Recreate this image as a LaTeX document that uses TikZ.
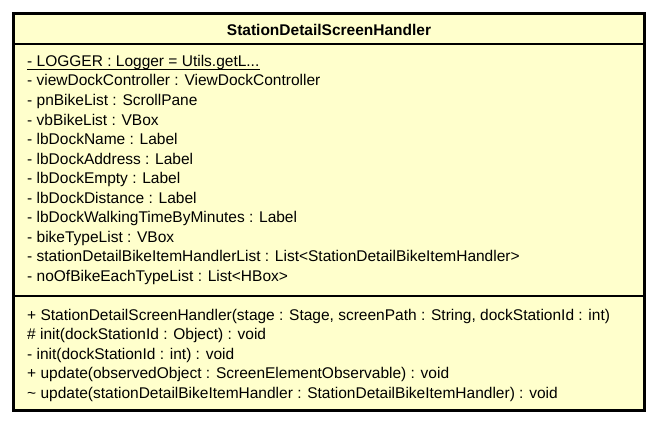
\documentclass[tikz,border=0pt]{standalone}
\usepackage{fontspec}
\setmainfont{Liberation Sans}
\definecolor{umlfill}{RGB}{255,255,204}
\begin{document}
\begin{tikzpicture}[x=1pt,y=-1pt,
  row/.style={anchor=base west,inner sep=0pt,font=\fontsize{15.5}{18}\selectfont},
  titletext/.style={anchor=base,inner sep=0pt,font=\fontsize{15.5}{18}\selectfont\bfseries},
  sep/.style={line width=1.2pt}]
\useasboundingbox (0,0) rectangle (660,425);
\draw[fill=umlfill,line width=3pt] (13.5,13.5) rectangle (644.5,410);
\coordinate (s1l) at (15,44); \coordinate (s1r) at (643,44);
\coordinate (s2l) at (15,296); \coordinate (s2r) at (643,296);
\draw[sep] (s1l) -- (s1r);
\draw[sep] (s2l) -- (s2r);
\node[titletext] (title) at (329,36) {StationDetailScreenHandler};
\node[row] (a1) at (27,66.5) {- LOGGER : Logger = Utils.getL...};
\draw[line width=1pt] ([yshift=-2.8pt]a1.base west) -- ([yshift=-2.8pt]a1.base east);
\node[row] (a2) at (27,86) {- viewDockController : ViewDockController};
\node[row] (a3) at (27,105.5) {- pnBikeList : ScrollPane};
\node[row] (a4) at (27,125) {- vbBikeList : VBox};
\node[row] (a5) at (27,144.5) {- lbDockName : Label};
\node[row] (a6) at (27,164) {- lbDockAddress : Label};
\node[row] (a7) at (27,183.5) {- lbDockEmpty : Label};
\node[row] (a8) at (27,203) {- lbDockDistance : Label};
\node[row] (a9) at (27,222.5) {- lbDockWalkingTimeByMinutes : Label};
\node[row] (a10) at (27,242) {- bikeTypeList : VBox};
\node[row] (a11) at (27,261.5) {- stationDetailBikeItemHandlerList : List<StationDetailBikeItemHandler>};
\node[row] (a12) at (27,281) {- noOfBikeEachTypeList : List<HBox>};
\node[row] (m1) at (27,320) {+ StationDetailScreenHandler(stage : Stage, screenPath : String, dockStationId : int)};
\node[row] (m2) at (27,339.5) {\# init(dockStationId : Object) : void};
\node[row] (m3) at (27,359) {- init(dockStationId : int) : void};
\node[row] (m4) at (27,378.5) {+ update(observedObject : ScreenElementObservable) : void};
\node[row] (m5) at (27,398) {\textasciitilde{} update(stationDetailBikeItemHandler : StationDetailBikeItemHandler) : void};
\end{tikzpicture}
\end{document}
